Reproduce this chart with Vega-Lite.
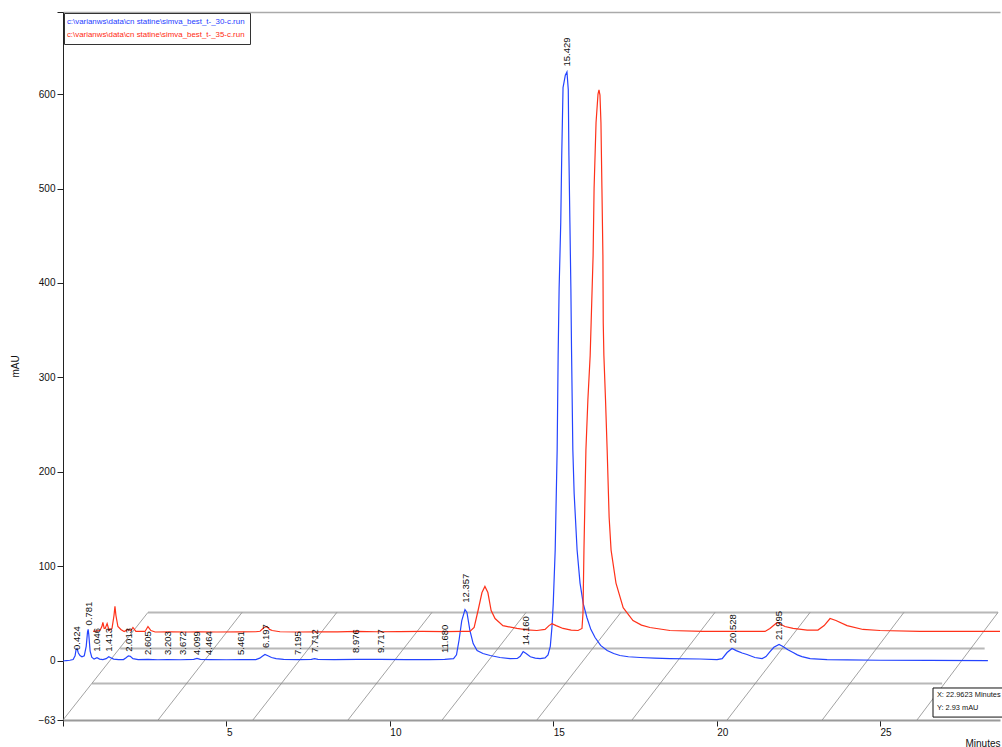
{
  "$schema": "https://vega.github.io/schema/vega-lite/v6.json",
  "width": 937,
  "height": 708,
  "autosize": {"type": "none"},
  "padding": {"left": 63, "top": 12, "right": 2, "bottom": 27},
  "background": "white",
  "config": {"view": {"stroke": null}, "font": "Liberation Sans"},
  "datasets": {
    "files": [
      {"k": "30", "file": "c:\\varianws\\data\\cn statine\\simva_best_t-_30-c.run"},
      {"k": "35", "file": "c:\\varianws\\data\\cn statine\\simva_best_t-_35-c.run"}
    ],
    "floorH": [
      {"t": 0.89, "t2": 26.9, "v": -24.4},
      {"t": 1.75, "t2": 28.2, "v": 12.7},
      {"t": 2.6, "t2": 28.61, "v": 51}
    ],
    "floorD": [
      {"t": 0, "t2": 2.6, "v": -63, "v2": 51}, {"t": 2.91, "t2": 5.48, "v": -63, "v2": 51},
      {"t": 5.81, "t2": 8.38, "v": -63, "v2": 51}, {"t": 8.72, "t2": 11.29, "v": -63, "v2": 51},
      {"t": 11.6, "t2": 14.17, "v": -63, "v2": 51}, {"t": 14.5, "t2": 17.07, "v": -63, "v2": 51},
      {"t": 17.41, "t2": 19.95, "v": -63, "v2": 51}, {"t": 20.32, "t2": 22.86, "v": -63, "v2": 51},
      {"t": 23.23, "t2": 25.73, "v": -63, "v2": 51}, {"t": 26.13, "t2": 28.61, "v": -63, "v2": 51}
    ],
    "cursorBox": [
      {"t": 26.62, "t2": 29.3, "v": -29.1, "v2": -59.9}
    ],
    "cursorText": [
      {"t": 26.74, "v": -32.5, "lines": ["X:  22.9623 Minutes", "Y: 2.93 mAU"]}
    ],
    "traces": [
      {"k":"30","t":0,"v":-0.5},{"k":"30","t":0.1,"v":0},{"k":"30","t":0.21,"v":0.3},{"k":"30","t":0.31,"v":1},{"k":"30","t":0.37,"v":5},{"k":"30","t":0.4,"v":11.7},{"k":"30","t":0.43,"v":12.7},{"k":"30","t":0.47,"v":8},{"k":"30","t":0.52,"v":5.3},{"k":"30","t":0.58,"v":4},{"k":"30","t":0.65,"v":5},{"k":"30","t":0.71,"v":15},{"k":"30","t":0.75,"v":30},{"k":"30","t":0.77,"v":33},{"k":"30","t":0.79,"v":27},{"k":"30","t":0.83,"v":10},{"k":"30","t":0.88,"v":3.5},{"k":"30","t":0.95,"v":1.5},{"k":"30","t":1.04,"v":3},{"k":"30","t":1.12,"v":1.5},{"k":"30","t":1.22,"v":1},{"k":"30","t":1.32,"v":2},{"k":"30","t":1.4,"v":4},{"k":"30","t":1.46,"v":3},{"k":"30","t":1.55,"v":1.5},{"k":"30","t":1.7,"v":1},{"k":"30","t":1.85,"v":1},{"k":"30","t":1.93,"v":3},{"k":"30","t":2.0,"v":5},{"k":"30","t":2.06,"v":4.5},{"k":"30","t":2.14,"v":2},{"k":"30","t":2.3,"v":1},{"k":"30","t":2.6,"v":1.3},{"k":"30","t":2.9,"v":0.8},{"k":"30","t":3.2,"v":1},{"k":"30","t":3.6,"v":0.8},{"k":"30","t":4.0,"v":1.2},{"k":"30","t":4.1,"v":2.3},{"k":"30","t":4.2,"v":1.2},{"k":"30","t":4.5,"v":1},{"k":"30","t":5.0,"v":0.8},{"k":"30","t":5.46,"v":1},{"k":"30","t":5.9,"v":1},{"k":"30","t":6.02,"v":2.5},{"k":"30","t":6.1,"v":4.5},{"k":"30","t":6.18,"v":6.4},{"k":"30","t":6.27,"v":5},{"k":"30","t":6.38,"v":3.2},{"k":"30","t":6.52,"v":2},{"k":"30","t":6.75,"v":1.2},{"k":"30","t":7.2,"v":1},{"k":"30","t":7.6,"v":1.2},{"k":"30","t":7.7,"v":2},{"k":"30","t":7.8,"v":1.2},{"k":"30","t":8.3,"v":1},{"k":"30","t":9.0,"v":1.3},{"k":"30","t":9.7,"v":1.2},{"k":"30","t":10.5,"v":1},{"k":"30","t":11.2,"v":1},{"k":"30","t":11.68,"v":1.2},{"k":"30","t":11.95,"v":2},{"k":"30","t":12.04,"v":6},{"k":"30","t":12.12,"v":22},{"k":"30","t":12.2,"v":42},{"k":"30","t":12.3,"v":54},{"k":"30","t":12.36,"v":51},{"k":"30","t":12.45,"v":32},{"k":"30","t":12.55,"v":18},{"k":"30","t":12.67,"v":10.6},{"k":"30","t":12.85,"v":7.4},{"k":"30","t":13.07,"v":5.3},{"k":"30","t":13.37,"v":3.2},{"k":"30","t":13.68,"v":2.1},{"k":"30","t":13.9,"v":2.2},{"k":"30","t":13.99,"v":4.5},{"k":"30","t":14.08,"v":9.5},{"k":"30","t":14.17,"v":7.4},{"k":"30","t":14.3,"v":4},{"k":"30","t":14.45,"v":2.5},{"k":"30","t":14.6,"v":2},{"k":"30","t":14.75,"v":2.8},{"k":"30","t":14.84,"v":6},{"k":"30","t":14.91,"v":15},{"k":"30","t":14.96,"v":35},{"k":"30","t":15.0,"v":60},{"k":"30","t":15.06,"v":117},{"k":"30","t":15.12,"v":223},{"k":"30","t":15.15,"v":323},{"k":"30","t":15.18,"v":394},{"k":"30","t":15.23,"v":464},{"k":"30","t":15.26,"v":535},{"k":"30","t":15.3,"v":607},{"k":"30","t":15.37,"v":620},{"k":"30","t":15.42,"v":623.5},{"k":"30","t":15.46,"v":605},{"k":"30","t":15.48,"v":535},{"k":"30","t":15.51,"v":464},{"k":"30","t":15.54,"v":394},{"k":"30","t":15.56,"v":329},{"k":"30","t":15.6,"v":223},{"k":"30","t":15.64,"v":177},{"k":"30","t":15.73,"v":117},{"k":"30","t":15.82,"v":82},{"k":"30","t":15.92,"v":60},{"k":"30","t":16.03,"v":45.6},{"k":"30","t":16.15,"v":33},{"k":"30","t":16.28,"v":24.4},{"k":"30","t":16.45,"v":16},{"k":"30","t":16.65,"v":10.6},{"k":"30","t":16.85,"v":7.5},{"k":"30","t":17.04,"v":5.3},{"k":"30","t":17.3,"v":4},{"k":"30","t":17.66,"v":3.2},{"k":"30","t":18.1,"v":2.5},{"k":"30","t":18.57,"v":2.1},{"k":"30","t":19.49,"v":1.6},{"k":"30","t":20.01,"v":1},{"k":"30","t":20.17,"v":2},{"k":"30","t":20.32,"v":8.5},{"k":"30","t":20.47,"v":12.7},{"k":"30","t":20.6,"v":10.5},{"k":"30","t":20.78,"v":8},{"k":"30","t":20.93,"v":6.4},{"k":"30","t":21.17,"v":3.2},{"k":"30","t":21.39,"v":2},{"k":"30","t":21.51,"v":4.2},{"k":"30","t":21.62,"v":9},{"k":"30","t":21.75,"v":14},{"k":"30","t":21.91,"v":17},{"k":"30","t":22.03,"v":14.8},{"k":"30","t":22.18,"v":11.5},{"k":"30","t":22.34,"v":8.5},{"k":"30","t":22.47,"v":6},{"k":"30","t":22.61,"v":4.2},{"k":"30","t":22.86,"v":2},{"k":"30","t":23.38,"v":1},{"k":"30","t":24.0,"v":0.6},{"k":"30","t":25.0,"v":0.3},{"k":"30","t":26.5,"v":0.1},{"k":"30","t":28.3,"v":0},
      {"k":"35","t":0.92,"v":30.8},{"k":"35","t":1.05,"v":31.5},{"k":"35","t":1.13,"v":31.8},{"k":"35","t":1.19,"v":36},{"k":"35","t":1.22,"v":40.3},{"k":"35","t":1.26,"v":34},{"k":"35","t":1.29,"v":34},{"k":"35","t":1.35,"v":39.2},{"k":"35","t":1.41,"v":31.8},{"k":"35","t":1.5,"v":34},{"k":"35","t":1.56,"v":47.7},{"k":"35","t":1.59,"v":57.3},{"k":"35","t":1.62,"v":47.7},{"k":"35","t":1.68,"v":36},{"k":"35","t":1.77,"v":32.9},{"k":"35","t":1.87,"v":30.8},{"k":"35","t":1.99,"v":32.9},{"k":"35","t":2.08,"v":31.8},{"k":"35","t":2.14,"v":35},{"k":"35","t":2.23,"v":30.8},{"k":"35","t":2.51,"v":30.8},{"k":"35","t":2.6,"v":36},{"k":"35","t":2.69,"v":31.8},{"k":"35","t":2.82,"v":30.2},{"k":"35","t":3.3,"v":30.5},{"k":"35","t":3.8,"v":30.2},{"k":"35","t":4.19,"v":30.5},{"k":"35","t":4.7,"v":30.2},{"k":"35","t":5.42,"v":30.3},{"k":"35","t":5.9,"v":30.5},{"k":"35","t":6.03,"v":31},{"k":"35","t":6.15,"v":35},{"k":"35","t":6.24,"v":36},{"k":"35","t":6.32,"v":33},{"k":"35","t":6.4,"v":31.8},{"k":"35","t":6.64,"v":30.5},{"k":"35","t":7.2,"v":30.2},{"k":"35","t":7.8,"v":30.5},{"k":"35","t":8.4,"v":30.3},{"k":"35","t":9.0,"v":30.8},{"k":"35","t":9.6,"v":30.5},{"k":"35","t":10.3,"v":30.6},{"k":"35","t":11.0,"v":30.8},{"k":"35","t":11.7,"v":30.6},{"k":"35","t":12.2,"v":30.8},{"k":"35","t":12.45,"v":30.8},{"k":"35","t":12.58,"v":35},{"k":"35","t":12.7,"v":53},{"k":"35","t":12.82,"v":72},{"k":"35","t":12.91,"v":78.5},{"k":"35","t":13.0,"v":72},{"k":"35","t":13.1,"v":53},{"k":"35","t":13.22,"v":44.5},{"k":"35","t":13.46,"v":37},{"k":"35","t":13.89,"v":34},{"k":"35","t":14.2,"v":32.5},{"k":"35","t":14.5,"v":31.8},{"k":"35","t":14.75,"v":32.9},{"k":"35","t":14.87,"v":37},{"k":"35","t":14.96,"v":39},{"k":"35","t":15.09,"v":37},{"k":"35","t":15.3,"v":34},{"k":"35","t":15.55,"v":32.3},{"k":"35","t":15.76,"v":31.8},{"k":"35","t":15.88,"v":34},{"k":"35","t":15.91,"v":50},{"k":"35","t":15.94,"v":117},{"k":"35","t":16.0,"v":223},{"k":"35","t":16.06,"v":276},{"k":"35","t":16.13,"v":323},{"k":"35","t":16.16,"v":358},{"k":"35","t":16.22,"v":429},{"k":"35","t":16.25,"v":500},{"k":"35","t":16.31,"v":570},{"k":"35","t":16.37,"v":600},{"k":"35","t":16.4,"v":604.5},{"k":"35","t":16.43,"v":599},{"k":"35","t":16.46,"v":570},{"k":"35","t":16.49,"v":500},{"k":"35","t":16.52,"v":429},{"k":"35","t":16.53,"v":358},{"k":"35","t":16.55,"v":323},{"k":"35","t":16.6,"v":276},{"k":"35","t":16.65,"v":223},{"k":"35","t":16.71,"v":152},{"k":"35","t":16.77,"v":117},{"k":"35","t":16.92,"v":82},{"k":"35","t":17.14,"v":56},{"k":"35","t":17.44,"v":42.4},{"k":"35","t":17.7,"v":37.5},{"k":"35","t":17.96,"v":35},{"k":"35","t":18.57,"v":31.8},{"k":"35","t":19.58,"v":30.8},{"k":"35","t":20.5,"v":30.8},{"k":"35","t":21.48,"v":30.8},{"k":"35","t":21.63,"v":34},{"k":"35","t":21.85,"v":40.3},{"k":"35","t":22.09,"v":36},{"k":"35","t":22.34,"v":34},{"k":"35","t":22.77,"v":32.3},{"k":"35","t":23.1,"v":32.3},{"k":"35","t":23.29,"v":37},{"k":"35","t":23.47,"v":44.5},{"k":"35","t":23.65,"v":42.4},{"k":"35","t":23.99,"v":37},{"k":"35","t":24.48,"v":32.9},{"k":"35","t":25.0,"v":31.8},{"k":"35","t":26.22,"v":30.8},{"k":"35","t":28.67,"v":30.8}
    ],
    "peaks": [
      {"t": 0.424, "lab": "0.424", "v": 7},
      {"t": 0.781, "lab": "0.781", "v": 33},
      {"t": 1.046, "lab": "1.046", "v": 5},
      {"t": 1.413, "lab": "1.413", "v": 5},
      {"t": 2.013, "lab": "2.013", "v": 5},
      {"t": 2.605, "lab": "2.605", "v": 1.6},
      {"t": 3.203, "lab": "3.203", "v": 1.6},
      {"t": 3.672, "lab": "3.672", "v": 1.6},
      {"t": 4.099, "lab": "4.099", "v": 1.6},
      {"t": 4.464, "lab": "4.464", "v": 1.6},
      {"t": 5.461, "lab": "5.461", "v": 1.6},
      {"t": 6.197, "lab": "6.197", "v": 9},
      {"t": 7.195, "lab": "7.195", "v": 1.6},
      {"t": 7.712, "lab": "7.712", "v": 3.7},
      {"t": 8.976, "lab": "8.976", "v": 3.7},
      {"t": 9.717, "lab": "9.717", "v": 3.7},
      {"t": 11.68, "lab": "11.680", "v": 3.7},
      {"t": 12.32, "lab": "12.357", "v": 57},
      {"t": 14.16, "lab": "14.160", "v": 12},
      {"t": 15.42, "lab": "15.429", "v": 625},
      {"t": 20.5, "lab": "20.528", "v": 14},
      {"t": 21.92, "lab": "21.995", "v": 17.5}
    ]
  },
  "encoding": {
    "x": {
      "field": "t", "type": "quantitative",
      "scale": {"domain": [0, 28.67], "nice": false, "zero": false},
      "axis": {
        "values": [0, 5, 10, 15, 20, 25],
        "labelExpr": "datum.value == 0 ? '' : datum.label",
        "domainColor": "#9a9a9a", "domainWidth": 2,
        "tickColor": "#222", "tickSize": 6, "tickWidth": 1,
        "labelAlign": "left", "labelDx": 1, "labelBaseline": "top", "labelPadding": 1,
        "labelFontSize": 10, "labelColor": "#111",
        "grid": false,
        "title": "Minutes", "titleAnchor": "end", "titleFontSize": 10,
        "titleFontWeight": "normal", "titleColor": "#111", "titlePadding": 1
      }
    },
    "y": {
      "field": "v", "type": "quantitative",
      "scale": {"domain": [-63, 687], "nice": false, "zero": false},
      "axis": {
        "values": [-63, 0, 100, 200, 300, 400, 500, 600, 687],
        "labelExpr": "datum.value > 650 ? '' : datum.label",
        "domainColor": "#222", "tickColor": "#222", "tickSize": 6,
        "labelFontSize": 10, "labelColor": "#111", "labelPadding": 2,
        "grid": true, "gridColor": "#aaaaaa", "gridWidth": 1.5,
        "gridOpacity": {"condition": {"test": "datum.value > 650", "value": 1}, "value": 0},
        "title": "mAU", "titleFontSize": 10, "titleFontWeight": "normal",
        "titleColor": "#111", "titlePadding": 18
      }
    }
  },
  "layer": [
    {
      "data": {"name": "floorH"},
      "mark": {"type": "rule", "color": "#b8b8b8", "strokeWidth": 2},
      "encoding": {"x2": {"field": "t2"}}
    },
    {
      "data": {"name": "floorD"},
      "mark": {"type": "rule", "color": "#8a8a8a", "strokeWidth": 0.8},
      "encoding": {"x2": {"field": "t2"}, "y2": {"field": "v2"}}
    },
    {
      "data": {"name": "traces"},
      "transform": [
        {"lookup": "k", "from": {"data": {"name": "files"}, "key": "k", "fields": ["file"]}}
      ],
      "mark": {"type": "line", "strokeWidth": 1.2},
      "encoding": {
        "color": {
          "field": "file", "type": "nominal",
          "scale": {
            "domain": ["c:\\varianws\\data\\cn statine\\simva_best_t-_30-c.run", "c:\\varianws\\data\\cn statine\\simva_best_t-_35-c.run"],
            "range": ["#2444ff", "#ff3119"]
          },
          "legend": {
            "title": null, "orient": "top-left", "offset": 1, "padding": 5,
            "strokeColor": "#333", "fillColor": "white",
            "symbolSize": 0, "symbolOpacity": 0, "symbolStrokeWidth": 0,
            "labelOffset": -10, "labelFontSize": 7.9, "labelLimit": 400, "rowPadding": 4,
            "labelColor": {"expr": "indexof(datum.value, '30-c') >= 0 ? '#1d3cff' : '#ff2a12'"}
          }
        }
      }
    },
    {
      "data": {"name": "peaks"},
      "mark": {"type": "text", "angle": 270, "align": "left", "baseline": "middle", "dx": 4, "fontSize": 9.5, "color": "#111"},
      "encoding": {"text": {"field": "lab"}}
    },
    {
      "data": {"name": "cursorBox"},
      "mark": {"type": "rect", "fill": "white", "stroke": "#111", "strokeWidth": 1},
      "encoding": {"x2": {"field": "t2"}, "y2": {"field": "v2"}}
    },
    {
      "data": {"name": "cursorText"},
      "mark": {"type": "text", "align": "left", "baseline": "top", "lineHeight": 13, "fontSize": 7.4, "color": "#111"},
      "encoding": {"text": {"field": "lines"}}
    }
  ]
}
